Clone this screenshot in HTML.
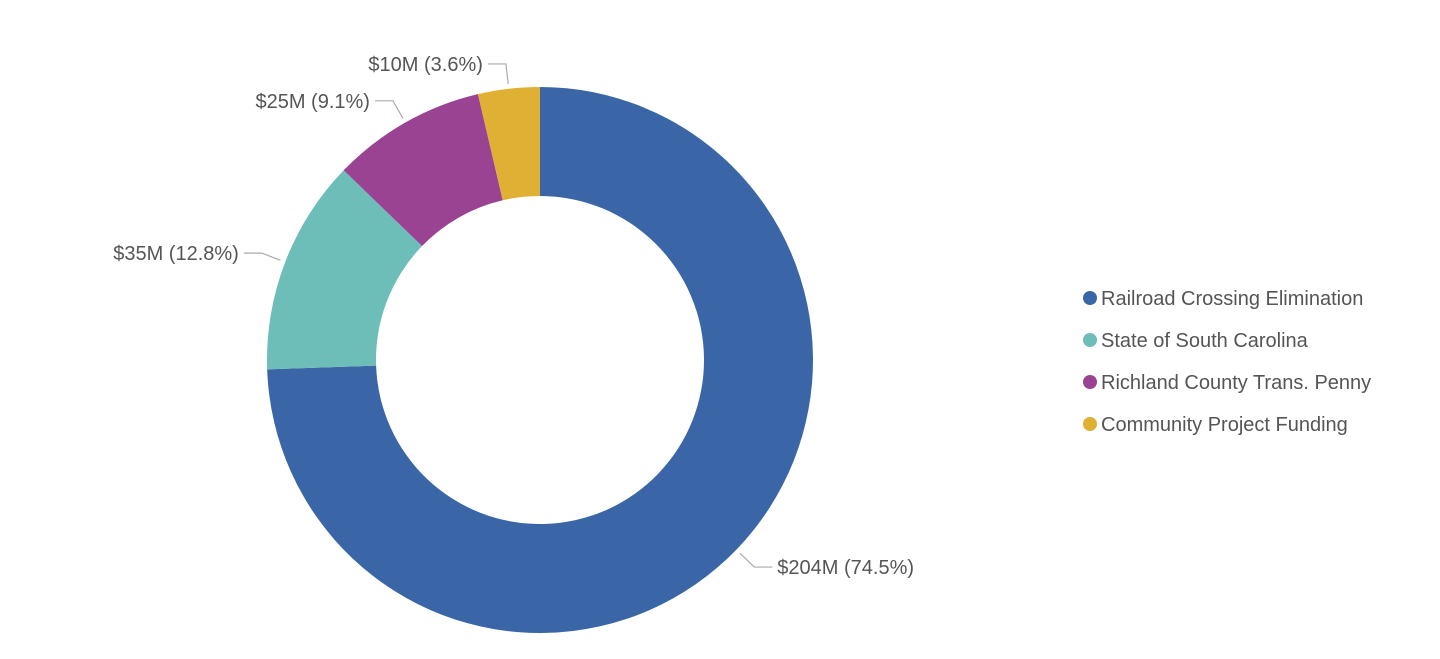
<!DOCTYPE html>
<html><head><meta charset="utf-8"><style>
body{margin:0;background:#fff;font-family:"Liberation Sans",Arial,sans-serif}
svg text{font-family:"Liberation Sans",Arial,sans-serif}
</style></head><body>
<svg id="c" width="1440" height="654"></svg>
<script>
const categories=["Railroad Crossing Elimination","State of South Carolina","Richland County Trans. Penny","Community Project Funding"];
const values=[204,35,25,10];
const valueLabels=["$204M","$35M","$25M","$10M"];
const colors=["#3a66a8","#6dbdb9","#9b4393","#e0b034"];
const svg=document.getElementById('c'),NS="http://www.w3.org/2000/svg";
const cx=540,cy=360,R=273,r=164;
function mk(t,a,p){const e=document.createElementNS(NS,t);for(const k in a)e.setAttribute(k,a[k]);(p||svg).appendChild(e);return e;}
function pt(rad,ang){return [cx+rad*Math.sin(ang),cy-rad*Math.cos(ang)];}
const total=values.reduce((a,b)=>a+b,0);
let a0=0;
values.forEach((v,i)=>{
  const a1=a0+v/total*2*Math.PI,large=(a1-a0)>Math.PI?1:0;
  const p1=pt(R,a0),p2=pt(R,a1),p3=pt(r,a1),p4=pt(r,a0);
  const s=mk('path',{d:`M${p1}A${R},${R} 0 ${large} 1 ${p2}L${p3}A${r},${r} 0 ${large} 0 ${p4}Z`,fill:colors[i]});
  
  
  const m=(a0+a1)/2,q1=pt(R+5,m),q2=pt(R+25,m),dir=Math.sin(m)>=0?1:-1;
  const q3=[q2[0]+dir*18,q2[1]];
  const l=mk('polyline',{points:`${q1} ${q2} ${q3}`,fill:'none',stroke:'#aaa','stroke-width':1.2});
  
  
  const t=mk('text',{x:q3[0]+dir*5,y:q3[1]+7,'font-size':20,fill:'#555','text-anchor':dir>0?'start':'end'});
  t.textContent=valueLabels[i]+" ("+(v/total*100).toFixed(1)+"%)";
  
  
  a0=a1;
});
categories.forEach((c,i)=>{
  const g=mk('g',{});
  
  
  const y=298+i*42;
  mk('circle',{cx:1090,cy:y,r:7,fill:colors[i]},g);
  const t=mk('text',{x:1101,y:y+7,'font-size':20,fill:'#555'},g);
  t.textContent=c;
});
</script>
</body></html>
